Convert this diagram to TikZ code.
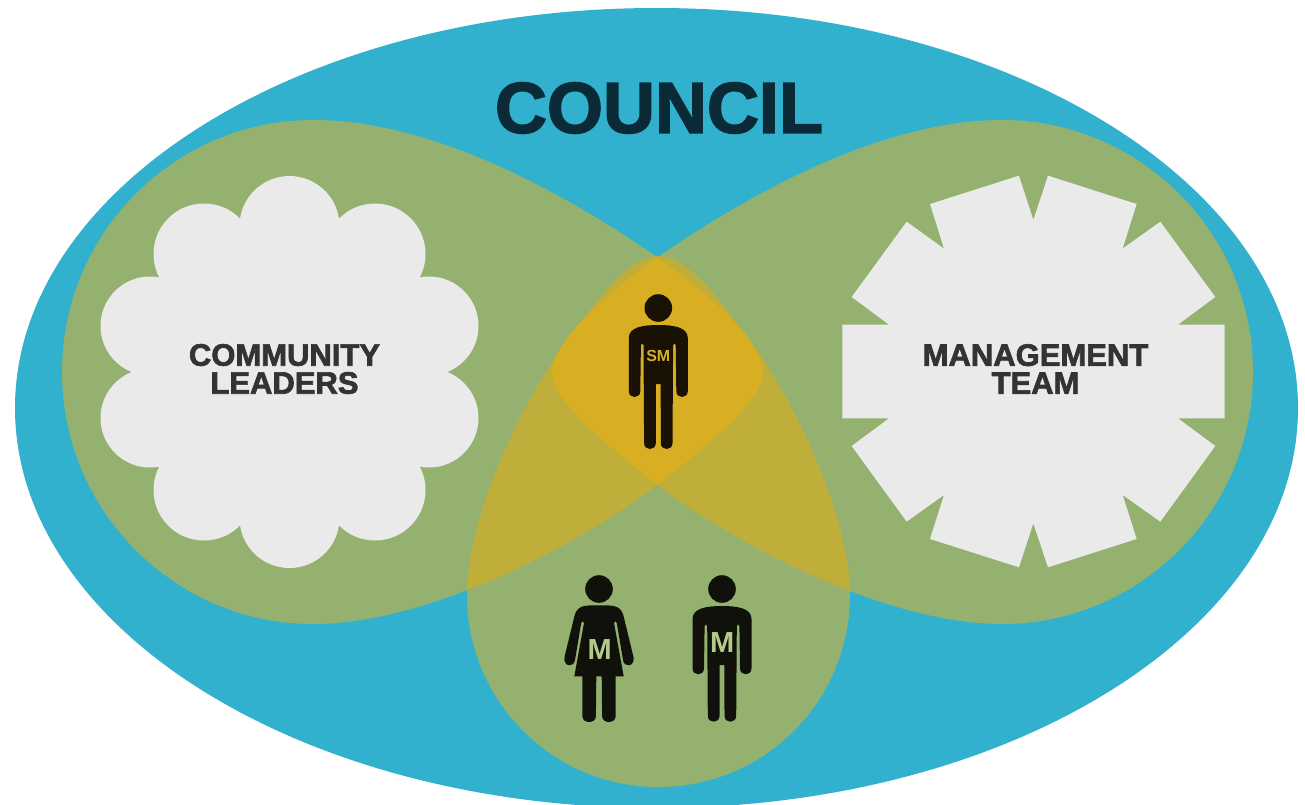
\documentclass[tikz,border=0pt]{standalone}
\usepackage{fontspec}
\setmainfont{Liberation Sans}
\newfontfamily\heavyfont[BoldFeatures={FakeBold=2.2}]{Liberation Sans}
\newcommand{\heavy}{\heavyfont\bfseries}
\newcommand{\semiheavy}{\rmfamily\bfseries}
\definecolor{cblue}{HTML}{31B1CE}
\definecolor{cgreen}{HTML}{94B16F}
\definecolor{cyellow}{HTML}{C0AE3B}
\definecolor{cgold}{HTML}{D8AE22}
\definecolor{cgrey}{HTML}{EAEAEA}
\definecolor{ctext}{HTML}{333333}
\definecolor{ctitle}{HTML}{0B2A37}
\definecolor{cinkA}{HTML}{181104}
\definecolor{cinkB}{HTML}{10110A}
\definecolor{cmlabel}{HTML}{B4C98C}
\def\pL{(313,120) .. controls (430,120) and (560,190) .. (657,257) .. controls (700,287) and (763,340) .. (763,372) .. controls (763,402) and (705,447) .. (657.5,485) .. controls (600,530) and (440,624) .. (313,624) .. controls (175,624) and (62,511) .. (62,372) .. controls (62,233) and (175,120) .. (313,120) -- cycle}
\def\pR{(1002,120) .. controls (885,120) and (755,190) .. (658,257) .. controls (615,287) and (552,340) .. (552,372) .. controls (552,402) and (610,447) .. (657.5,485) .. controls (715,530) and (875,624) .. (1002,624) .. controls (1140,624) and (1253,511) .. (1253,372) .. controls (1253,233) and (1140,120) .. (1002,120) -- cycle}
\def\pB{(467,595) .. controls (467,520) and (520,400) .. (577,327) .. controls (600,297) and (630,256) .. (658.5,256) .. controls (687,256) and (717,297) .. (740,327) .. controls (797,400) and (850,520) .. (850,595) .. controls (850,701) and (764.5,787) .. (658.5,787) .. controls (552.5,787) and (467,701) .. (467,595) -- cycle}
% man figure: #1 x, #2 y of head centre, #3 arm end, #4 leg end, #5 colour
\newcommand{\manfig}[5]{%
  \begin{scope}[shift={(#1,#2)},fill=#5]
    \fill (0,0) circle [radius=13.8];
    \fill (0,17) .. controls (15,17) and (29.5,19) .. (29.5,30) -- (29.5,#3-6)
      .. controls (29.5,#3+2) and (18,#3+2) .. (18,#3-6) -- (17.4,37)
      .. controls (17.4,35) and (14.8,35) .. (14.8,37) -- (14.2,#4-6)
      .. controls (14.2,#4+2) and (2.5,#4+2) .. (2.5,#4-6) -- (2.4,76) -- (-2.4,76) -- (-2.5,#4-6)
      .. controls (-2.5,#4+2) and (-14.2,#4+2) .. (-14.2,#4-6) -- (-14.8,37)
      .. controls (-14.8,35) and (-17.4,35) .. (-17.4,37) -- (-18,#3-6)
      .. controls (-18,#3+2) and (-29.5,#3+2) .. (-29.5,#3-6) -- (-29.5,30)
      .. controls (-29.5,19) and (-15,17) .. (0,17) -- cycle;
  \end{scope}}
\newcommand{\womanfig}[3]{%
  \begin{scope}[shift={(#1,#2)},fill=#3]
    \fill (0,0) circle [radius=13.8];
    \fill (0,16.3) .. controls (8,16.3) and (14,16.3) .. (18,18) .. controls (22,20) and (24,24) .. (24.7,27.7)
      -- (34.5,68) .. controls (36,78) and (25,79) .. (24,71) -- (17.8,34)
      .. controls (17.4,31.5) and (14.8,31.5) .. (15,34) -- (24.7,87.3) -- (16.7,87.3) -- (16.7,127)
      .. controls (16.7,135) and (3.1,135) .. (3.1,127) -- (2.7,87.3) -- (-2.7,87.3) -- (-3.1,127)
      .. controls (-3.1,135) and (-16.7,135) .. (-16.7,127) -- (-16.7,87.3) -- (-24.7,87.3) -- (-15,34)
      .. controls (-14.8,31.5) and (-17.4,31.5) .. (-17.8,34) -- (-24,71)
      .. controls (-25,79) and (-36,78) .. (-34.5,68) -- (-24.7,27.7)
      .. controls (-24,24) and (-22,20) .. (-18,18) .. controls (-14,16.3) and (-8,16.3) .. (0,16.3) -- cycle;
  \end{scope}}
\tikzset{
  bigtext/.style={inner sep=0pt,align=center,text=ctext,font=\heavy\fontsize{31}{28}\selectfont},
  lobefill/.style={fill=cgreen},
  cloudpuff/.style={fill=cgrey},
  persontag/.style={inner sep=0pt}
}
\begin{document}
\begin{tikzpicture}[x=1pt,y=-1pt]
\useasboundingbox (0,0) rectangle (1305,804);
\clip (0,0) rectangle (1305,804);
\fill[white] (0,0) rectangle (1305,804);
\fill[cblue] (656.5,408) ellipse [x radius=641.5,y radius=400];
\fill[lobefill] \pL;
\fill[lobefill] \pR;
\fill[lobefill] \pB;
\begin{scope}\clip \pB; \fill[cyellow] \pL; \fill[cyellow] \pR;\end{scope}
\begin{scope}\clip \pL; \fill[cgold] \pR;\end{scope}
% cloud
\foreach \cx/\cy/\cr in {289.5/226/50,204/254/50.5,375/254/50.5,150/326/49.5,429/326/49.5,150/418/49.5,429/418/49.5,204/490/50.5,375/490/50.5,289.5/518/50}
  \fill[cloudpuff] (\cx,\cy) circle [radius=\cr];
\fill[cloudpuff] (150,326) -- (204,254) -- (289.5,226) -- (375,254) -- (429,326) -- (429,418) -- (375,490) -- (289.5,518) -- (204,490) -- (150,418) -- cycle;
% star
\begin{scope}[shift={(830,160)},x=0.3333pt,y=-0.3333pt]
\fill[cgrey] (610,180) -- (654,47) -- (920,132) -- (878,266) -- (991,185) -- (1156,411) -- (1044,494) -- (1184,494) -- (1184,775) -- (1044,775) -- (1156,858) -- (991,1085) -- (878,1005) -- (920,1137) -- (654,1222) -- (610,1090) -- (567,1222) -- (300,1137) -- (342,1005) -- (230,1085) -- (65,858) -- (177,775) -- (37,775) -- (37,494) -- (177,494) -- (65,411) -- (230,185) -- (342,266) -- (300,132) -- (567,47) -- cycle;
\end{scope}
\node[bigtext,text=ctitle,font=\heavy\fontsize{72}{72}\selectfont] (council) at (659,108) {COUNCIL};
\node[bigtext] (community) at (284.5,369) {COMMUNITY\\LEADERS};
\node[bigtext] (management) at (1035.5,369) {MANAGEMENT\\TEAM};
\manfig{658.3}{308}{89}{141}{cinkA}
\manfig{722}{589}{85.3}{132.7}{cinkB}
\womanfig{599}{589}{cinkB}
\node[persontag,text=cgold,font=\semiheavy\fontsize{16}{16}\selectfont] (sm) at (658.3,356) {SM};
\node[persontag,text=cmlabel,font=\semiheavy\fontsize{29}{29}\selectfont] (m1) at (599.7,649.3) {M};
\node[persontag,text=cmlabel,font=\semiheavy\fontsize{29}{29}\selectfont] (m2) at (722.3,642.3) {M};
\end{tikzpicture}
\end{document}
